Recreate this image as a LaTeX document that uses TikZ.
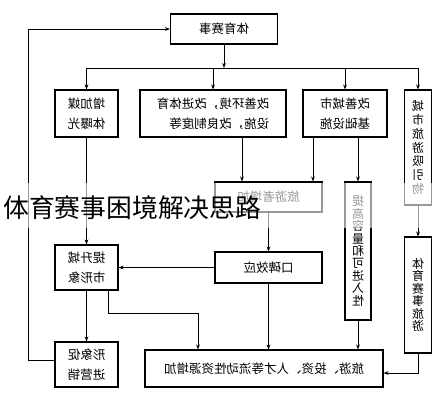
\documentclass[tikz,border=0pt]{standalone}
\usepackage{fontspec}
\usepackage{tikz}
\usetikzlibrary{arrows.meta}
\newfontfamily\cjk{Noto Sans CJK SC}
\newcommand{\rf}[1]{\reflectbox{#1}}

\tikzset{
	box/.style={draw, line width=1.1pt, inner sep=0pt, align=right,
		font=\cjk\fontsize{12.5}{20}\selectfont},
	vbox/.style={box, align=center, font=\cjk\fontsize{12}{12.4}\selectfont},
	link/.style={line width=0.9pt},
	arr/.style={link, -{Stealth[length=5pt,width=3.8pt]}}
}

\begin{document}
\begin{tikzpicture}[x=1pt,y=-1pt]

	\fill[white] (0,0) rectangle (446,400);

	\coordinate (split) at (224,68);
	\coordinate (turn) at (198,313);
	\coordinate (loop) at (28,0);

	\node[box, minimum width=107pt, minimum height=30pt] (top) at (224,29) {\rf{体育赛事}};

	\node[box, minimum width=63pt, minimum height=47pt] (media) at (86.5,113.5) {\rf{增加媒}\\\rf{体曝光}};
	\node[box, minimum width=146pt, minimum height=47pt] (env) at (213,113.5) {\rf{改善环境，改进体育}\\\rf{设施，改良制度等}};
	\node[box, minimum width=84pt, minimum height=47pt] (infra) at (345,113.5) {\rf{改善城市}\\\rf{基础设施}};
	\node[vbox, minimum width=27pt, minimum height=115pt, font=\cjk\fontsize{12}{13.8}\selectfont] (attract) at (418,147.5)
		{\rf{城}\\\rf{市}\\\rf{旅}\\\rf{游}\\\rf{吸}\\\rf{引}\\\rf{物}};

	\node[box, minimum width=107pt, minimum height=30pt] (tourist) at (268.5,197) {\rf{旅游者增加}};
	\node[vbox, minimum width=26pt, minimum height=138pt] (access) at (358,251)
		{\rf{提}\\\rf{高}\\\rf{容}\\\rf{量}\\\rf{和}\\\rf{可}\\\rf{进}\\\rf{入}\\\rf{性}};
	\node[vbox, minimum width=27pt, minimum height=116pt] (sport) at (418,295)
		{\rf{体}\\\rf{育}\\\rf{赛}\\\rf{事}\\\rf{旅}\\\rf{游}};

	\node[box, minimum width=63pt, minimum height=45pt] (image) at (86.5,267.5) {\rf{提升城}\\\rf{市形象}};
	\node[box, minimum width=107pt, minimum height=31pt] (word) at (268.5,267.5) {\rf{口碑效应}};
	\node[box, minimum width=63pt, minimum height=45pt] (market) at (86.5,364.5) {\rf{形象促}\\\rf{进营销}};
	\node[box, minimum width=238pt, minimum height=37pt] (flow) at (264,368.5) {\rf{旅游、投资、人才等流动性资源增加}};

	% top branches
	\draw[arr] (top) -- (split);
	\draw[link] (media |- split) -- (attract |- split);
	\foreach \b in {media,env,infra,attract}
		\draw[arr] (\b |- split) -- (\b);

	% middle row
	\draw[arr] ([xshift=29pt]env.south) -- ([xshift=29pt]env.south |- tourist.north);
	\draw[arr] ([xshift=-32pt]infra.south) -- ([xshift=-32pt]infra.south |- tourist.north);
	\draw[arr] (infra.south -| access) -- (access);
	\draw[arr] (attract) -- (sport);
	\draw[arr] (tourist) -- (word);
	\draw[arr] (word) -- (image);
	\draw[arr] (media) -- (image);
	\draw[arr] (image) -- (market);

	% into the bottom box
	\draw[arr] ([xshift=21.5pt]image.south) |- (turn) -- (turn |- flow.north);
	\draw[arr] (word) -- (word |- flow.north);
	\draw[arr] (access) -- (access |- flow.north);
	\draw[arr] (sport) |- ([yshift=-4.5pt]flow.east);

	% feedback loop
	\draw[arr] ([yshift=4.5pt]market.west) -- ([yshift=4.5pt]market.west -| loop) |- (top.west);

	% title band
	\fill[white, opacity=0.6] (0,183) rectangle (446,228);
	\node[anchor=west, inner sep=0pt, font=\cjk\fontsize{25.8}{26}\selectfont] (title) at (3,208) {体育赛事困境解决思路};

\end{tikzpicture}
\end{document}
